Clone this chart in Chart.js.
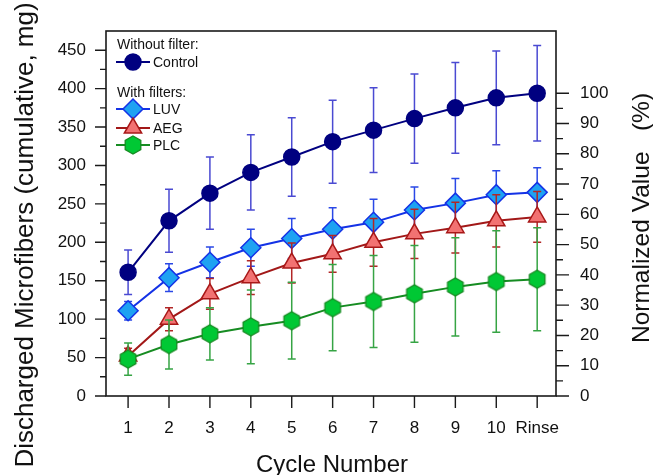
<!DOCTYPE html>
<html lang="en">
<head>
  <meta charset="UTF-8">
  <title>Discharged Microfibers per Cycle</title>
  <script src="https://cdn.jsdelivr.net/npm/chart.js"></script>
  <style>
    body { margin: 0; background: #fff; }
    #wrap { width: 653px; height: 475px; }
  </style>
</head>
<body>
<div id="wrap"><canvas id="fibers" width="653" height="475"></canvas></div>
<script>
  // data (mg, cumulative) with +/- error
  const categories = ['1', '2', '3', '4', '5', '6', '7', '8', '9', '10', 'Rinse'];
  const controlValues = [161, 228, 264, 291, 311, 331, 346, 361, 375, 388, 394];
  const controlErrors = [29, 41, 47, 49, 51, 54, 55, 58, 59, 61, 62];
  const luvValues = [111, 154, 174, 193, 205, 217, 226, 242, 251, 262, 265];
  const luvErrors = [12, 18, 20, 24, 26, 28, 30, 30, 32, 31, 32];
  const aegValues = [52, 100, 133, 154, 173, 185, 200, 211, 219, 228, 233];
  const aegErrors = [10, 15, 20, 22, 26, 24, 31, 32, 33, 34, 33];
  const plcValues = [48, 67, 81, 90, 98, 115, 123, 133, 142, 149, 152];
  const plcErrors = [21, 32, 34, 48, 50, 56, 60, 63, 64, 66, 67];

  const leftTicks = [0, 50, 100, 150, 200, 250, 300, 350, 400, 450];
  const rightTicks = [0, 10, 20, 30, 40, 50, 60, 70, 80, 90, 100];
  const yMax = 475;
  const normBase = controlValues[controlValues.length - 1]; // 100 % = control after rinse

  const FONT = 'Arial, "Liberation Sans", sans-serif';

  function hexagon(r, fill, stroke) {
    const c = document.createElement('canvas');
    const s = Math.ceil(r * 2 + 4);
    c.width = s; c.height = s;
    const g = c.getContext('2d');
    g.beginPath();
    for (let k = 0; k < 6; k++) {
      const a = Math.PI / 3 * k - Math.PI / 2;
      const px = s / 2 + r * Math.cos(a), py = s / 2 + r * Math.sin(a);
      if (k) g.lineTo(px, py); else g.moveTo(px, py);
    }
    g.closePath();
    g.fillStyle = fill; g.fill();
    g.lineWidth = 1.3; g.strokeStyle = stroke; g.stroke();
    return c;
  }

  function drawMarker(ctx, ds, x, y) {
    const st = ds.pointStyle, r = ds.pointRadius;
    if (st instanceof HTMLCanvasElement) {
      ctx.drawImage(st, x - st.width / 2, y - st.height / 2);
      return;
    }
    ctx.beginPath();
    if (st === 'circle') {
      ctx.arc(x, y, r, 0, Math.PI * 2);
    } else if (st === 'rectRot') {
      ctx.moveTo(x - r, y); ctx.lineTo(x, y - r); ctx.lineTo(x + r, y); ctx.lineTo(x, y + r);
      ctx.closePath();
    } else if (st === 'triangle') {
      for (let k = 0; k < 3; k++) {
        const a = k * 2 * Math.PI / 3;
        const px = x + Math.sin(a) * r, py = y - Math.cos(a) * r;
        if (k) ctx.lineTo(px, py); else ctx.moveTo(px, py);
      }
      ctx.closePath();
    }
    ctx.fillStyle = ds.pointBackgroundColor; ctx.fill();
    ctx.lineWidth = ds.pointBorderWidth; ctx.strokeStyle = ds.pointBorderColor; ctx.stroke();
  }

  function series(label, values, errors, look) {
    return Object.assign({
      label: label,
      data: values.map((v, i) => ({ x: i + 1, y: v })),
      errors: errors,
      yAxisID: 'y',
      borderWidth: 2,
      tension: 0,
      pointBorderWidth: 1.5
    }, look);
  }

  const datasets = [
    series('Control', controlValues, controlErrors, {
      order: 4, borderColor: '#000080', errorColor: '#4a4ad2',
      pointStyle: 'circle', pointRadius: 8, pointHoverRadius: 8,
      pointBackgroundColor: '#000080', pointBorderColor: '#000080'
    }),
    series('LUV', luvValues, luvErrors, {
      order: 3, borderColor: '#1432e6', errorColor: '#2a48e6',
      pointStyle: 'rectRot', pointRadius: 10, pointHoverRadius: 10,
      pointBackgroundColor: '#1ea2f2', pointBorderColor: '#1432e6'
    }),
    series('AEG', aegValues, aegErrors, {
      order: 2, borderColor: '#a21818', errorColor: '#b22626',
      pointStyle: 'triangle', pointRadius: 10, pointHoverRadius: 10,
      pointBackgroundColor: '#f27272', pointBorderColor: '#a81818'
    }),
    series('PLC', plcValues, plcErrors, {
      order: 1, borderColor: '#168c22', errorColor: '#36a444',
      pointStyle: hexagon(9, '#00c834', '#168c22'), pointRadius: 9, pointHoverRadius: 9,
      pointBackgroundColor: '#00c834', pointBorderColor: '#168c22'
    })
  ];

  // vertical error bars, drawn just before each series so its markers sit on top
  const errorBarPlugin = {
    id: 'errorBars',
    beforeDatasetDraw(chart, args) {
      const ds = chart.data.datasets[args.index];
      if (!ds.errors) return;
      const ys = chart.scales.y, ctx = chart.ctx;
      ctx.save();
      ctx.strokeStyle = ds.errorColor;
      ctx.lineWidth = 1.5;
      args.meta.data.forEach((pt, i) => {
        const v = ds.data[i].y, e = ds.errors[i];
        const top = ys.getPixelForValue(v + e), bot = ys.getPixelForValue(v - e);
        ctx.beginPath();
        ctx.moveTo(pt.x, top); ctx.lineTo(pt.x, bot);
        ctx.moveTo(pt.x - 4, top); ctx.lineTo(pt.x + 4, top);
        ctx.moveTo(pt.x - 4, bot); ctx.lineTo(pt.x + 4, bot);
        ctx.stroke();
      });
      ctx.restore();
    }
  };

  // box, major/minor tick marks and axis titles
  const framePlugin = {
    id: 'frame',
    afterDraw(chart) {
      const { ctx, chartArea: a, scales } = chart;
      ctx.save();
      ctx.strokeStyle = '#1a1a1a';
      ctx.lineWidth = 1.6;
      ctx.strokeRect(a.left, a.top, a.right - a.left, a.bottom - a.top);
      ctx.lineWidth = 1.4;
      ctx.beginPath();
      scales.y.ticks.forEach(t => {
        const y = scales.y.getPixelForValue(t.value);
        const len = leftTicks.includes(t.value) ? 11 : 6;
        ctx.moveTo(a.left, y); ctx.lineTo(a.left - len, y);
      });
      scales.yNorm.ticks.forEach(t => {
        const y = scales.yNorm.getPixelForValue(t.value);
        const len = rightTicks.includes(t.value) ? 13 : 7;
        ctx.moveTo(a.right, y); ctx.lineTo(a.right + len, y);
      });
      scales.x.ticks.forEach(t => {
        const x = scales.x.getPixelForValue(t.value);
        ctx.moveTo(x, a.bottom); ctx.lineTo(x, a.bottom + 12);
      });
      ctx.stroke();

      ctx.fillStyle = '#111';
      ctx.textAlign = 'center';
      ctx.textBaseline = 'alphabetic';
      ctx.font = '24px ' + FONT;
      ctx.fillText('Cycle Number', 332, 472);

      ctx.save();
      ctx.translate(33, 235);
      ctx.rotate(-Math.PI / 2);
      ctx.font = '26px ' + FONT;
      ctx.fillText('Discharged Microfibers (cumulative, mg)', 0, 0);
      ctx.restore();

      ctx.save();
      ctx.translate(649, 218);
      ctx.rotate(-Math.PI / 2);
      ctx.font = '24.5px ' + FONT;
      ctx.fillText('Normalized Value   (%)', 0, 0);
      ctx.restore();
      ctx.restore();
    }
  };

  // legend split in two groups with headings
  const legendPlugin = {
    id: 'groupLegend',
    afterDraw(chart) {
      const ctx = chart.ctx;
      ctx.save();
      ctx.font = '14px ' + FONT;
      ctx.textAlign = 'left';
      ctx.textBaseline = 'alphabetic';
      ctx.fillStyle = '#111';
      ctx.fillText('Without filter:', 117, 49);
      ctx.fillText('With filters:', 117, 97);
      const rows = [[0, 62], [1, 109], [2, 128], [3, 145]];
      rows.forEach(([i, y]) => {
        const ds = chart.data.datasets[i];
        ctx.strokeStyle = ds.borderColor;
        ctx.lineWidth = 2;
        ctx.beginPath(); ctx.moveTo(116, y); ctx.lineTo(150, y); ctx.stroke();
        drawMarker(ctx, ds, 133, y);
        ctx.fillStyle = '#111';
        ctx.fillText(ds.label, 153, y + 5);
      });
      ctx.restore();
    }
  };

  const tickFont = { family: FONT, size: 17 };
  const hiddenTicks = { drawOnChartArea: false, tickColor: 'rgba(0,0,0,0)' };

  new Chart(document.getElementById('fibers'), {
    type: 'line',
    data: { datasets: datasets },
    plugins: [errorBarPlugin, framePlugin, legendPlugin],
    options: {
      responsive: false,
      animation: false,
      layout: { padding: { top: 31, left: 0, right: 0, bottom: 0 } },
      plugins: { legend: { display: false }, tooltip: { enabled: false } },
      scales: {
        x: {
          type: 'linear',
          min: 0.46,
          max: 11.46,
          afterBuildTicks: s => { s.ticks = categories.map((c, i) => ({ value: i + 1 })); },
          afterFit: s => { s.height = 79; },
          ticks: {
            autoSkip: false, maxRotation: 0, padding: 10, color: '#111', font: tickFont,
            callback: v => categories[Math.round(v) - 1]
          },
          grid: Object.assign({ tickLength: 12 }, hiddenTicks),
          border: { display: false }
        },
        y: {
          position: 'left',
          min: 0,
          max: yMax,
          afterBuildTicks: s => {
            const t = [];
            for (let v = 0; v <= leftTicks[leftTicks.length - 1]; v += 25) t.push({ value: v });
            s.ticks = t;
          },
          afterFit: s => { s.width = 106; },
          ticks: {
            autoSkip: false, padding: 9, color: '#111', font: tickFont,
            callback: v => leftTicks.includes(v) ? String(v) : ''
          },
          grid: Object.assign({ tickLength: 11 }, hiddenTicks),
          border: { display: false }
        },
        yNorm: {
          position: 'right',
          min: 0,
          max: yMax / normBase * 100,
          afterBuildTicks: s => {
            const t = [];
            for (let v = 0; v <= rightTicks[rightTicks.length - 1]; v += 5) t.push({ value: v });
            s.ticks = t;
          },
          afterFit: s => { s.width = 97; },
          ticks: {
            autoSkip: false, padding: 11, color: '#111', font: tickFont,
            callback: v => rightTicks.includes(v) ? String(v) : ''
          },
          grid: Object.assign({ tickLength: 13 }, hiddenTicks),
          border: { display: false }
        }
      }
    }
  });
</script>
</body>
</html>
